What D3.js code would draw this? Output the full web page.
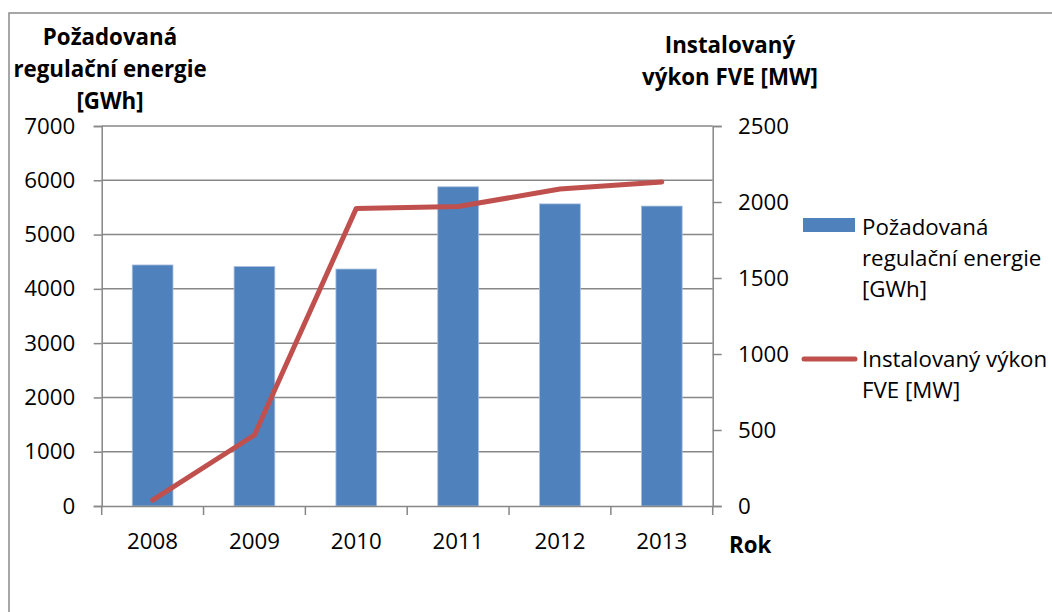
<!DOCTYPE html>
<html><head><meta charset="utf-8">
<script src="https://cdn.jsdelivr.net/npm/d3@7"></script>
<style>
html,body{margin:0;padding:0;background:#fff;}
svg{display:block;}
text{font-family:"Open Sans",sans-serif;fill:#000;}
</style></head>
<body>
<svg id="chart" width="1052" height="612"></svg>
<script>
const years = ["2008","2009","2010","2011","2012","2013"];
const energyGWh = [4440, 4410, 4365, 5880, 5565, 5525];
const capacityMW = [38, 467, 1958, 1970, 2085, 2132];
const leftTicks = [0,1000,2000,3000,4000,5000,6000,7000];
const rightTicks = [0,500,1000,1500,2000,2500];
const leftTitle = ["Požadovaná","regulační energie","[GWh]"];
const rightTitle = ["Instalovaný","výkon FVE [MW]"];
const legendBar = ["Požadovaná","regulační energie","[GWh]"];
const legendLine = ["Instalovaný výkon","FVE [MW]"];
const xTitle = "Rok";

const svg = d3.select("#chart");
const L = 101.7, R = 712.7, T = 126, B = 506;
const grid = "#878787";
const FS = 22.3;
const FONT = "'Open Sans'";

svg.append("rect").attr("x",9).attr("y",13).attr("width",1100).attr("height",700)
  .attr("fill","none").attr("stroke","#8a8a8a").attr("stroke-width",1.5);

const x = d3.scaleBand().domain(years).range([L,R]).paddingInner(0.6).paddingOuter(0.3);
const yL = d3.scaleLinear().domain([0,7000]).range([B,T]);
const yR = d3.scaleLinear().domain([0,2500]).range([B,T]);

svg.append("g").selectAll("line").data(leftTicks.filter(d=>d>0)).join("line")
  .attr("x1",L).attr("x2",R).attr("y1",d=>yL(d)).attr("y2",d=>yL(d))
  .attr("stroke",grid).attr("stroke-width",1.5);

svg.append("g").selectAll("rect").data(years).join("rect")
  .attr("x",d=>x(d)).attr("width",x.bandwidth())
  .attr("y",(d,i)=>yL(energyGWh[i])).attr("height",(d,i)=>B-yL(energyGWh[i]))
  .attr("fill","#4F81BD").attr("stroke","#a7bfde").attr("stroke-width",0.8);

const gL = svg.append("g").attr("transform",`translate(${L},0)`)
  .call(d3.axisLeft(yL).tickValues(leftTicks).tickSize(8).tickPadding(18.5).tickFormat(d3.format("d")));
gL.select(".domain").attr("stroke",grid).attr("stroke-width",1.5);
gL.selectAll(".tick line").attr("stroke",grid).attr("stroke-width",1.5);
gL.selectAll(".tick text").attr("font-size",FS).attr("font-family",FONT).attr("fill","#000");

const gR = svg.append("g").attr("transform",`translate(${R},0)`)
  .call(d3.axisRight(yR).tickValues(rightTicks).tickSize(9).tickPadding(16.3).tickFormat(d3.format("d")));
gR.select(".domain").attr("stroke",grid).attr("stroke-width",1.5);
gR.selectAll(".tick line").attr("stroke",grid).attr("stroke-width",1.5);
gR.selectAll(".tick text").attr("font-size",FS).attr("font-family",FONT).attr("fill","#000");

const gB = svg.append("g").attr("transform",`translate(0,${B})`)
  .call(d3.axisBottom(x).tickSize(0).tickPadding(27));
gB.select(".domain").attr("stroke",grid).attr("stroke-width",1.5);
gB.selectAll(".tick text").attr("font-size",FS).attr("font-family",FONT).attr("fill","#000");
const bounds = years.map(d=>x(d)-x.step()*x.paddingInner()/2).concat([R]);
bounds[0] = L;
svg.append("g").selectAll("line").data(bounds).join("line")
  .attr("x1",d=>d).attr("x2",d=>d).attr("y1",B).attr("y2",B+9)
  .attr("stroke",grid).attr("stroke-width",1.5);

const line = d3.line().x((d,i)=>x(years[i])+x.bandwidth()/2).y(d=>yR(d));
svg.append("path").datum(capacityMW).attr("d",line)
  .attr("fill","none").attr("stroke","#C0504D").attr("stroke-width",5)
  .attr("stroke-linejoin","round").attr("stroke-linecap","round");

svg.append("g").selectAll("text").data(leftTitle).join("text")
  .attr("x",110).attr("y",(d,i)=>45+i*32).attr("text-anchor","middle")
  .attr("font-size",FS).attr("font-weight","bold").text(d=>d);
svg.append("g").selectAll("text").data(rightTitle).join("text")
  .attr("x",730).attr("y",(d,i)=>53+i*32).attr("text-anchor","middle")
  .attr("font-size",FS).attr("font-weight","bold").text(d=>d);
svg.append("text").attr("x",729).attr("y",553).attr("font-size",FS).attr("font-weight","bold").text(xTitle);

svg.append("rect").attr("x",803).attr("y",218).attr("width",52).attr("height",14).attr("fill","#4F81BD");
svg.append("g").selectAll("text").data(legendBar).join("text")
  .attr("x",862).attr("y",(d,i)=>235+i*31).attr("font-size",FS).text(d=>d);
svg.append("line").attr("x1",804).attr("x2",855).attr("y1",359).attr("y2",359)
  .attr("stroke","#C0504D").attr("stroke-width",5).attr("stroke-linecap","round");
svg.append("g").selectAll("text").data(legendLine).join("text")
  .attr("x",862).attr("y",(d,i)=>367+i*31).attr("font-size",FS).text(d=>d);
</script>
</body></html>
